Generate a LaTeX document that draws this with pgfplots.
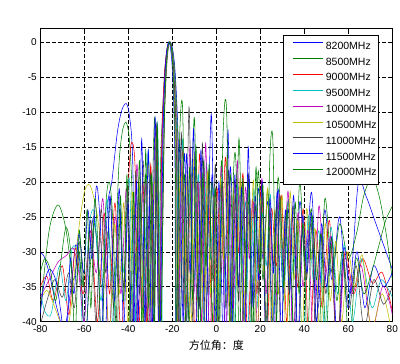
\documentclass[border=0pt]{standalone}
\usepackage{fontspec}
\setmainfont{Liberation Sans}
\newfontfamily\cjk{Noto Sans CJK SC}
\usepackage{pgfplots}
\pgfplotsset{compat=1.18}
\definecolor{c1}{rgb}{0,0,1}
\definecolor{c2}{rgb}{0,0.5,0}
\definecolor{c3}{rgb}{1,0,0}
\definecolor{c4}{rgb}{0,0.75,0.75}
\definecolor{c5}{rgb}{0.75,0,0.75}
\definecolor{c6}{rgb}{0.75,0.75,0}
\definecolor{c7}{rgb}{0.25,0.25,0.25}
\begin{document}
\begin{tikzpicture}
\begin{axis}[
 scale only axis, width=352pt, height=293.7pt,
 xmin=-80, xmax=80, ymin=-40, ymax=2,
 xtick={-80,-60,...,80}, ytick={-40,-35,...,0},
 grid=major, major grid style={black, line width=0.5pt, dash pattern=on 3.5pt off 2.5pt},
 tick align=inside, major tick length=4pt,
 axis line style={black, line width=0.6pt},
 tick style={black, line width=0.5pt},
 /pgf/number format/assume math mode=true,
 tick label style={font=\fontsize{10}{12}\selectfont},
 xlabel={\cjk 方位角：度},
 x label style={at={(axis description cs:0.5,0)}, anchor=center, yshift=-24pt, font=\fontsize{11}{13}\selectfont},
 legend cell align=left,
 legend image code/.code={\path (0pt,0pt) (40pt,0pt); \draw[#1, line width=0.6pt] (8pt,3.6pt) -- (38pt,3.6pt);},
 legend style={at={(0.6895,0.976)}, anchor=north west, draw=black, fill=white, line width=0.6pt,
   font=\fontsize{10.5}{12}\selectfont, inner xsep=1pt, inner ysep=5.5pt, row sep=5pt,
   nodes={inner xsep=1pt, inner ysep=1pt}},
 every axis plot/.append style={line width=0.55pt, smooth, tension=0.5},
]
\addplot[c1] coordinates {(-80,-30.2) (-78.5,-30.5) (-76,-33) (-72.5,-38) (-69.06,-41) (-66,-35) (-63.9,-29) (-61.5,-33) (-59.55,-45) (-57.5,-30) (-55.69,-25) (-53.8,-31) (-52.19,-42) (-49.5,-24) (-47.5,-20) (-45,-13) (-43,-9.8) (-41,-8.8) (-39.5,-10.5) (-38,-17) (-36.8,-42) (-34.5,-22) (-32.3,-42) (-29.9,-18) (-28.4,-44) (-27.2,-12.5) (-25.9,-45) (-25.0,-19.2) (-24.3,-10.5) (-23.2,-3.9) (-22.1,-0.9) (-21,0) (-19.9,-0.9) (-18.8,-3.9) (-17.7,-10.5) (-17.0,-19.2) (-16.62,-45) (-14.48,-16) (-12.36,-40) (-10.25,-18) (-8.16,-37) (-6.08,-16.5) (-4.01,-42) (-1.95,-19) (0.11,-35) (2.18,-20) (4.24,-45) (6.32,-18) (8.40,-33) (10.49,-22) (12.59,-44) (14.71,-19) (16.86,-38) (19.03,-21) (21.22,-31) (23.45,-23) (25.72,-43) (28.03,-21) (30.40,-36) (32.82,-24) (35.31,-45) (37.88,-23) (40.54,-32) (43.32,-21.5) (46.22,-38) (49.29,-24) (52.56,-34) (56.10,-25) (60.0,-38) (64.41,-20.5) (68,-22) (72,-25.5) (76,-29) (80,-32.5)};
\addlegendentry{8200MHz}
\addplot[c2] coordinates {(-80,-38.5) (-76,-27) (-72,-23.3) (-68.5,-26.5) (-65,-34) (-62.3,-30) (-59.55,-42) (-55.69,-26) (-52.19,-35) (-49,-27) (-46.5,-38) (-44.5,-19) (-42.8,-13) (-41,-11.5) (-39.5,-14) (-38.3,-22) (-37.2,-45) (-35.3,-20) (-33.8,-40) (-32.2,-19) (-30.5,-43) (-28.0,-10.8) (-26.0,-45) (-25.4,-19.2) (-24.5,-10.5) (-23.4,-3.9) (-22.3,-0.9) (-21.2,0) (-20.1,-0.9) (-19.0,-3.9) (-17.9,-10.5) (-17.2,-19.2) (-16.8,-45) (-14.5,-19) (-12.3,-40) (-10.0,-10.8) (-7.8,-45) (-5.8,-17) (-3.8,-36) (-1.8,-20) (0.3,-44) (2.3,-17) (4.4,-38) (6.4,-19) (8.4,-42) (10.3,-13.8) (12.5,-40) (14.7,-20) (16.9,-45) (19.0,-18.5) (21.2,-34) (23.4,-21) (25.7,-40) (28.0,-19.5) (30.4,-30) (32.8,-23) (35.3,-41) (37.9,-20) (40.5,-34) (43.3,-24) (46.2,-45) (49.3,-22.5) (52.6,-33) (56.1,-26) (60.0,-31) (64,-27) (67,-22) (70.7,-19.4) (74,-22) (77.5,-28) (80,-34)};
\addlegendentry{8500MHz}
\addplot[c3] coordinates {(-80,-35) (-77,-33.5) (-74,-37) (-70,-32) (-67,-39) (-64,-29.5) (-60.5,-36) (-57,-27) (-54,-40) (-51,-24.5) (-48.5,-36) (-46,-23) (-43.2,-42) (-39.6,-18) (-38.2,-14.4) (-36.8,-19) (-35.4,-44) (-33.4,-20) (-31.5,-41) (-29.8,-17.5) (-28.3,-38) (-27.0,-12) (-25.6,-44) (-25.0,-19.2) (-24.4,-10.5) (-23.4,-3.9) (-22.3,-0.9) (-21.3,0) (-20.3,-0.9) (-19.2,-3.9) (-18.2,-10.5) (-17.6,-19.2) (-17.2,-45) (-15.3,-15) (-13.4,-38) (-11.5,-19) (-9.6,-43) (-7.6,-16) (-5.7,-35) (-3.7,-18.5) (-1.8,-45) (0.2,-21) (2.2,-33) (4.2,-16.5) (6.2,-41) (8.2,-20) (10.2,-30) (12.2,-19) (14.3,-44) (16.4,-22.5) (18.5,-36) (20.6,-20) (22.8,-45) (25.0,-24) (27.3,-32) (29.6,-22) (32.0,-40) (34.4,-25) (37.0,-35) (39.6,-24) (42.3,-45) (45.2,-27) (48.2,-38) (51.4,-25.5) (54.8,-43) (58.5,-30) (62.5,-36) (66.5,-31) (71,-34.5) (75.5,-33) (80,-38.5)};
\addlegendentry{9000MHz}
\addplot[c4] coordinates {(-80,-35.5) (-78,-38.5) (-75,-38.8) (-71.3,-32) (-68.3,-37) (-65.5,-29.5) (-62.5,-31) (-60.4,-42) (-58.0,-27) (-55.39,-24.5) (-52.37,-37) (-49.55,-22.5) (-46.89,-41) (-44.35,-23) (-41.91,-33) (-39.57,-19.5) (-37.3,-43) (-35.1,-20.5) (-32.96,-35) (-30.86,-15.5) (-28.82,-42) (-26.81,-11.5) (-24.83,-45) (-24.5,-19.2) (-23.95,-10.5) (-23.0,-3.9) (-22.05,-0.9) (-21.1,0) (-20.15,-0.9) (-19.2,-3.9) (-18.25,-10.5) (-17.7,-19.2) (-17.22,-45) (-15.37,-14) (-13.53,-40) (-11.71,-16.5) (-9.9,-34) (-8.11,-19) (-6.32,-45) (-4.53,-17.5) (-2.75,-31) (-0.97,-21) (0.8,-42) (2.58,-19) (4.36,-36) (6.14,-22) (7.93,-45) (9.73,-20.5) (11.54,-33) (13.36,-23) (15.19,-44) (17.04,-21) (18.91,-38) (20.79,-24.5) (22.71,-32) (24.64,-22) (26.62,-45) (28.62,-24) (30.66,-37) (32.75,-22.5) (34.89,-33) (37.09,-26) (39.35,-45) (41.68,-25) (44.11,-34) (46.64,-27) (49.29,-41) (52.09,-26.5) (55.08,-36) (58.31,-29) (61.89,-40) (65.93,-31) (70.74,-38) (75,-34) (80,-36.5)};
\addlegendentry{9500MHz}
\addplot[c5] coordinates {(-80,-36.5) (-76,-34) (-72,-31.5) (-68,-30.5) (-65,-29.5) (-62.5,-33) (-60,-40) (-57.5,-27) (-54.5,-33) (-51.5,-22.5) (-48.8,-42) (-46,-25) (-43.3,-36) (-40.8,-21) (-38.4,-45) (-36.1,-17.5) (-33.9,-38) (-31.9,-20) (-29.8,-43) (-27.8,-13) (-26.0,-45) (-24.8,-19.2) (-24.25,-10.5) (-23.3,-3.9) (-22.35,-0.9) (-21.4,0) (-20.45,-0.9) (-19.5,-3.9) (-18.55,-10.5) (-18.0,-19.2) (-17.5,-45) (-15.6,-17.5) (-13.8,-42) (-12.0,-15) (-10.2,-36) (-8.4,-20) (-6.6,-40) (-4.8,-14.5) (-3.0,-45) (-1.2,-22) (0.6,-33) (2.4,-18) (4.2,-44) (6.0,-20.5) (7.8,-38) (9.6,-17) (11.4,-45) (13.2,-21) (15.0,-31) (16.9,-23) (18.8,-42) (20.7,-19.5) (22.6,-36) (24.5,-24) (26.5,-45) (28.5,-22) (30.6,-32) (32.7,-21.5) (34.9,-44) (37.1,-24.5) (39.4,-35) (41.7,-27) (44.1,-42) (46.6,-23.5) (49.3,-34) (52.1,-28) (55.1,-45) (58.3,-31) (61.9,-36) (65.9,-32) (70.7,-41) (75.5,-35) (78.5,-37) (80,-39)};
\addlegendentry{10000MHz}
\addplot[c6] coordinates {(-80,-37) (-77,-35.5) (-74,-37.5) (-71,-40) (-68.5,-42) (-66,-38) (-63,-28) (-60,-21.5) (-57.4,-20.5) (-54.5,-24) (-52,-30) (-50,-36) (-48.4,-42) (-46.2,-26) (-44.1,-36) (-42.1,-23) (-40.1,-41) (-38.2,-21.5) (-36.3,-33) (-34.5,-19.5) (-32.7,-44) (-30.9,-17) (-29.2,-38) (-27.5,-13.5) (-25.7,-44) (-24.07,-19.2) (-23.6,-10.5) (-22.8,-3.9) (-22.0,-0.9) (-21.2,0) (-20.4,-0.9) (-19.6,-3.9) (-18.8,-10.5) (-18.33,-19.2) (-18.0,-45) (-16.26,-15.5) (-14.71,-38) (-13.18,-18) (-11.65,-44) (-10.14,-16) (-8.63,-33) (-7.12,-20) (-5.62,-45) (-4.13,-18.5) (-2.64,-36) (-1.15,-22) (0.34,-42) (1.83,-19.5) (3.33,-31) (4.82,-17) (6.32,-45) (7.82,-21) (9.32,-35) (10.84,-19.5) (12.36,-41) (13.89,-23) (15.42,-30) (16.98,-20) (18.54,-45) (20.12,-22.5) (21.72,-33) (23.33,-21) (24.96,-43) (26.62,-24) (28.29,-36) (30.0,-22) (31.74,-45) (33.51,-21.5) (35.31,-34) (37.16,-25.5) (39.05,-42) (41.0,-24) (43.0,-31) (45.07,-27) (47.23,-45) (49.46,-26) (51.82,-37) (54.29,-28.5) (56.94,-40) (59.77,-30) (62.87,-35) (66.38,-30.5) (70.39,-41) (75.46,-36) (80,-42)};
\addlegendentry{10500MHz}
\addplot[c7] coordinates {(-80,-40.5) (-77,-37) (-73.5,-34) (-70,-36.5) (-67,-33) (-64.5,-38) (-62,-28.5) (-59.5,-36) (-57,-25.5) (-54.7,-40) (-52.4,-24) (-50.2,-33) (-48.0,-22.5) (-46.0,-44) (-44.0,-24) (-42.1,-35) (-40.2,-20.5) (-38.4,-42) (-36.6,-18.5) (-34.9,-36) (-33.2,-17) (-31.6,-45) (-30.0,-19) (-28.5,-41) (-27.0,-11.5) (-25.6,-45) (-24.0,-19.2) (-23.5,-10.5) (-22.6,-3.9) (-21.8,-0.9) (-21.0,0) (-20.2,-0.9) (-19.4,-3.9) (-18.5,-10.5) (-18.0,-19.2) (-17.6,-45) (-15.9,-13) (-14.3,-44) (-12.4,-9.3) (-10.7,-40) (-9.2,-17) (-7.7,-38) (-6.3,-14.5) (-4.9,-45) (-3.4,-19) (-1.9,-34) (-0.4,-17.5) (1.1,-41) (2.6,-20) (4.1,-33) (5.6,-18.5) (7.1,-45) (8.6,-22) (10.1,-37) (11.6,-20.5) (13.1,-30) (14.6,-19) (16.2,-44) (17.8,-23.5) (19.4,-36) (21.0,-21) (22.6,-40) (24.3,-24.5) (26.0,-32) (27.7,-23) (29.5,-45) (31.3,-25) (33.1,-35) (35.0,-23.5) (37.0,-43) (39.0,-27) (41.0,-34) (43.1,-26) (45.3,-42) (47.5,-27.5) (49.8,-36) (52.2,-29) (54.8,-45) (57.5,-31) (60.4,-38) (63.6,-32) (67.2,-41) (71.5,-34) (76,-37.5) (80,-35)};
\addlegendentry{11000MHz}
\addplot[c1] coordinates {(-80,-39) (-78.5,-35) (-76,-32.5) (-73,-34) (-70.5,-39) (-68.4,-45) (-66.4,-31) (-64.7,-36) (-62.5,-27.5) (-60.2,-33) (-58.4,-24) (-56.5,-31) (-54.5,-20.6) (-52.6,-27) (-50.7,-45) (-48.4,-22) (-46.2,-37) (-44.1,-21) (-42.1,-41) (-40.1,-23) (-38.2,-45) (-36.3,-20) (-35.5,-40) (-33.9,-13.9) (-32.4,-40) (-30.9,-15.5) (-29.3,-44) (-27.8,-10.8) (-25.9,-45) (-24.47,-19.2) (-24.0,-10.5) (-23.2,-3.9) (-22.4,-0.9) (-21.6,0) (-20.8,-0.9) (-20.0,-3.9) (-19.2,-10.5) (-18.73,-19.2) (-18.4,-45) (-16.7,-14.5) (-15.1,-40) (-13.5,-16) (-11.9,-33) (-10.3,-12.5) (-8.6,-45) (-7.0,-15.5) (-5.0,-44) (-2.3,-10.3) (-0.4,-44) (1.2,-20) (3.4,-45) (5.3,-12.6) (6.9,-43) (8.4,-19) (10.0,-35) (11.5,-21) (13.0,-45) (14.5,-15) (16.1,-38) (17.7,-22) (19.3,-34) (20.9,-20) (22.6,-45) (24.3,-22.5) (26.0,-33) (27.8,-21.5) (29.6,-42) (31.4,-24) (33.3,-36) (35.2,-22) (37.2,-45) (39.2,-25) (41.2,-33) (43.3,-24.5) (45.5,-40) (47.8,-26) (50.1,-35) (52.6,-28) (55.2,-45) (57.9,-29.5) (60.8,-36) (64.0,-30) (67.5,-38) (71.5,-32) (76,-35) (80,-33)};
\addlegendentry{11500MHz}
\addplot[c2] coordinates {(-80,-33) (-78,-31) (-75.5,-32.5) (-73,-37) (-70.5,-31) (-68.3,-26.5) (-66.2,-30) (-64.2,-42) (-62.3,-27) (-60.5,-35) (-58.7,-24) (-57.0,-38) (-55.3,-22.5) (-53.7,-30) (-52.1,-45) (-50.3,-24) (-48.5,-20.1) (-46.8,-27) (-45.2,-44) (-43.6,-22) (-42.1,-37) (-40.6,-19) (-39.1,-42) (-37.7,-21.5) (-36.3,-35) (-34.9,-17) (-33.5,-45) (-32.1,-15.5) (-30.7,-38) (-29.4,-19) (-28.1,-41) (-26.8,-12) (-25.4,-45) (-24.05,-19.2) (-23.6,-10.5) (-22.85,-3.9) (-22.1,-0.9) (-21.3,0) (-20.5,-0.9) (-19.75,-3.9) (-19.0,-10.5) (-18.55,-19.2) (-18.25,-45) (-16.9,-16) (-15.3,-9.6) (-13.7,-43) (-12.2,-18) (-10.7,-37) (-9.2,-15) (-7.7,-45) (-6.2,-19) (-4.7,-32) (-3.2,-17.5) (-1.8,-40) (-0.4,-21) (1.2,-45) (3.0,-14) (4.7,-10) (6.4,-43) (7.8,-19) (9.0,-18) (10.5,-45) (12.0,-19.5) (13.5,-36) (15.0,-21) (16.5,-44) (18.0,-18) (19.6,-33) (21.2,-20.5) (22.7,-45) (24.2,-18) (25.7,-14) (27.3,-40) (28.9,-22) (30.6,-35) (32.3,-24) (34.0,-45) (35.8,-23) (37.6,-36) (39.5,-26) (41.4,-44) (43.4,-25) (45.5,-34) (47.6,-27.5) (49.9,-42) (52.3,-28) (54.8,-37) (57.5,-30) (60.5,-44) (63.5,-31) (67,-36) (70.5,-33) (74,-29) (77,-25.5) (80,-23.5)};
\addlegendentry{12000MHz}
\end{axis}
\pgfresetboundingbox
\useasboundingbox (-40.3pt,-42.3pt) rectangle (359.7pt,321.7pt);
\end{tikzpicture}
\end{document}
